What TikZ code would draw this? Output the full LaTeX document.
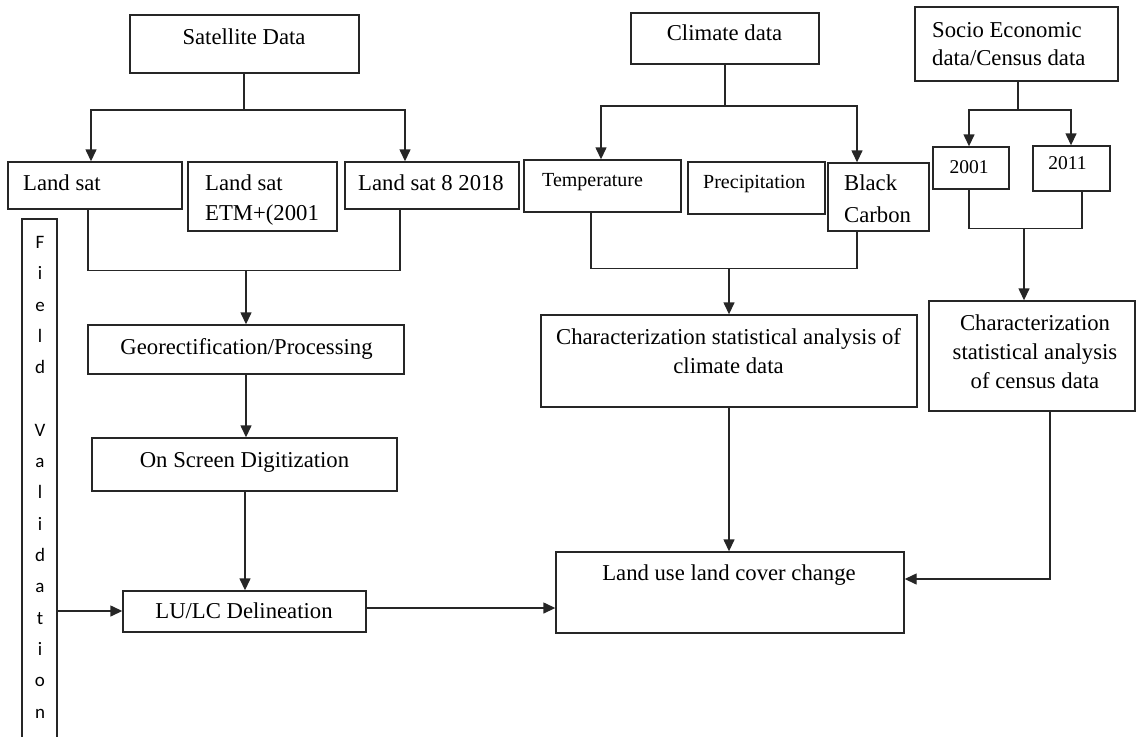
\documentclass[tikz,border=0pt]{standalone}
\usepackage{fontspec}
\setmainfont{Liberation Serif}
\newfontfamily\fvfont{Carlito}
\usetikzlibrary{arrows.meta}
\begin{document}
\begin{tikzpicture}[x=1pt,y=-1pt,
  box/.style={draw=black!85,line width=1.4pt,inner sep=0pt,rectangle},
  txt/.style={inner sep=0pt,font=\fontsize{22.7}{29}\selectfont},
  stxt/.style={inner sep=0pt,font=\fontsize{20}{24}\selectfont},
  ytxt/.style={inner sep=0pt,font=\fontsize{19.5}{24}\selectfont},
  conn/.style={draw=black!85,line width=1.4pt},
  arr/.style={conn,-{Triangle[length=12pt,width=11pt]}}]
\useasboundingbox (0,0) rectangle (1137,736);
\clip (0,0) rectangle (1137,736);
% boxes
\node[box,minimum width=229pt,minimum height=58pt] (sat) at (244.5,44) {};
\node[box,minimum width=174pt,minimum height=47pt] (landsat) at (95,185.5) {};
\node[box,minimum width=149pt,minimum height=69pt] (etm) at (262.5,196.5) {};
\node[box,minimum width=174pt,minimum height=47pt] (ls8) at (432,185.5) {};
\node[box,minimum width=316pt,minimum height=49pt] (geo) at (246,349.5) {};
\node[box,minimum width=305pt,minimum height=53pt] (osd) at (244.5,464.5) {};
\node[box,minimum width=243pt,minimum height=41pt] (lulc) at (244.5,611.5) {};
\node[box,minimum width=35pt,minimum height=521pt] (fv) at (39.5,479.5) {};
\node[box,minimum width=188pt,minimum height=51pt] (clim) at (725,38.5) {};
\node[box,minimum width=157pt,minimum height=52pt] (temp) at (602.5,186) {};
\node[box,minimum width=137pt,minimum height=52pt] (precip) at (756.5,188) {};
\node[box,minimum width=101pt,minimum height=68pt] (bc) at (878.5,197) {};
\node[box,minimum width=203pt,minimum height=74pt] (soc) at (1016.5,44) {};
\node[box,minimum width=76pt,minimum height=42pt] (y2001) at (971,168) {};
\node[box,minimum width=77pt,minimum height=45pt] (y2011) at (1071.5,168.5) {};
\node[box,minimum width=376pt,minimum height=92pt] (cchar) at (729,361) {};
\node[box,minimum width=206pt,minimum height=110pt] (cens) at (1032,356) {};
\node[box,minimum width=348pt,minimum height=81pt] (luc) at (730,592.5) {};
% texts (multi-line nodes anchored at the baseline of their last line)
\node[txt,anchor=base] (t-sat) at (244,44.5) {Satellite Data};
\node[txt,anchor=base west] (t-landsat) at (23,190.5) {Land sat};
\node[txt,anchor=base west,align=left,font=\fontsize{22.7}{30}\selectfont] (t-etm) at (205,220.5) {Land sat\\ETM+(2001};
\node[txt,anchor=base west] (t-ls8) at (358,190.5) {Land sat 8 2018};
\node[txt,anchor=base] (t-geo) at (246.5,354.5) {Georectification/Processing};
\node[txt,anchor=base] (t-osd) at (244.5,467.5) {On Screen Digitization};
\node[txt,anchor=base] (t-lulc) at (244,618.5) {LU/LC Delineation};
\node[txt,anchor=base] (t-clim) at (724.5,40.5) {Climate data};
\node[stxt,anchor=base west] (t-temp) at (542,186.6) {Temperature};
\node[stxt,anchor=base west] (t-precip) at (703,188.6) {Precipitation};
\node[txt,anchor=base west,align=left,font=\fontsize{22.7}{32}\selectfont] (t-bc) at (844,222.5) {Black\\Carbon};
\node[txt,anchor=base west,align=left,font=\fontsize{22.7}{28}\selectfont] (t-soc) at (932,65.5) {Socio Economic\\data/Census data};
\node[ytxt,anchor=base] (t-2001) at (969,173.5) {2001};
\node[ytxt,anchor=base] (t-2011) at (1067.5,169.5) {2011};
\node[txt,anchor=base,align=center] (t-cchar) at (728.5,373.5) {Characterization statistical analysis of\\climate data};
\node[txt,anchor=base,align=center] (t-cens) at (1035,388.5) {Characterization\\statistical analysis\\of census data};
\node[txt,anchor=base] (t-luc) at (729,580.5) {Land use land cover change};
\node[inner sep=0pt,font=\fvfont\fontsize{19}{31.3}\selectfont,align=center,anchor=base] (t-fv) at (40,718) {F\\i\\e\\l\\d\\~\\V\\a\\l\\i\\d\\a\\t\\i\\o\\n};
% satellite branch
\coordinate (j1) at ([xshift=-0.5pt]sat.south |- 0,110);
\draw[conn] ([xshift=-0.5pt]sat.south) -- (j1);
\draw[arr] (j1) -| ([xshift=-4pt]landsat.north);
\draw[arr] (j1) -| ([xshift=-27pt]ls8.north);
\draw[conn] ([xshift=-7pt]landsat.south) -- ++(0,61) -| ([xshift=-32pt]ls8.south);
\coordinate (j2) at (geo.north |- 0,270);
\draw[arr] (j2) -- (geo.north);
\draw[arr] (geo.south) -- (geo.south |- osd.north);
\draw[arr] ([xshift=0.5pt]osd.south) -- ([xshift=0.5pt]lulc.north);
\draw[arr] ([yshift=0.5pt]fv.east |- lulc.west) -- ([yshift=0.5pt]lulc.west);
\draw[arr] ([yshift=3.5pt]lulc.east) -- ([yshift=3.5pt]lulc.east -| luc.west);
% climate branch
\coordinate (j3) at (clim.south |- 0,106);
\draw[conn] (clim.south) -- (j3);
\draw[arr] (j3) -| ([xshift=-1.5pt]temp.north);
\draw[arr] (j3) -| ([xshift=-21.5pt]bc.north);
\draw[conn] ([xshift=-11.5pt]temp.south) -- ++(0,56) -| ([xshift=-21.5pt]bc.south);
\coordinate (j4) at (cchar.north |- 0,268);
\draw[arr] (j4) -- (cchar.north);
\draw[arr] (cchar.south) -- (cchar.south |- luc.north);
% census branch
\coordinate (j5) at ([xshift=1.5pt]soc.south |- 0,110);
\draw[conn] ([xshift=1.5pt]soc.south) -- (j5);
\draw[arr] (j5) -| ([xshift=-2pt]y2001.north);
\draw[arr] (j5) -| ([xshift=-0.5pt]y2011.north);
\draw[conn] ([xshift=-2pt]y2001.south) -- ++(0,39) -| ([xshift=10.5pt]y2011.south);
\coordinate (j6) at (1024,228);
\draw[arr] (j6) -- (j6 |- cens.north);
\draw[arr] ([xshift=18pt]cens.south) |- ([yshift=13.5pt]luc.east);
\end{tikzpicture}
\end{document}
